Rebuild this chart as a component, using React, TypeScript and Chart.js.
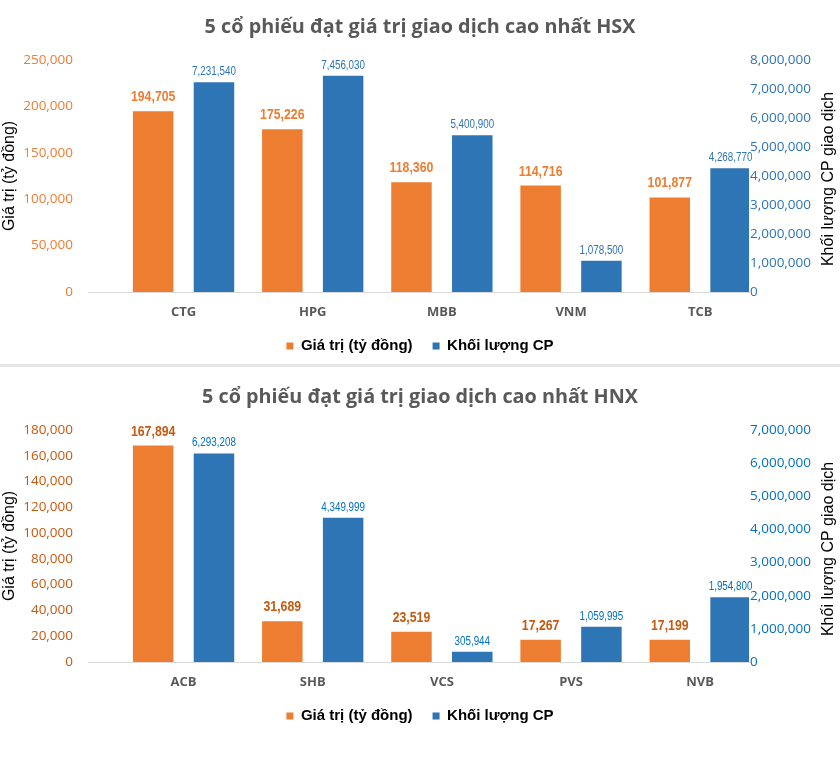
import React, { useEffect, useRef } from "react";
import { Chart, registerables } from "chart.js";

Chart.register(...registerables);

// ---------- Data ----------
const hsxTitle = "5 cổ phiếu đạt giá trị giao dịch cao nhất HSX";
const hsxCategories = ["CTG", "HPG", "MBB", "VNM", "TCB"];
const hsxValues = [194705, 175226, 118360, 114716, 101877];
const hsxVolumes = [7231540, 7456030, 5400900, 1078500, 4268770];
const hsxLeftMax = 250000;
const hsxLeftStep = 50000;
const hsxRightMax = 8000000;
const hsxRightStep = 1000000;

const hnxTitle = "5 cổ phiếu đạt giá trị giao dịch cao nhất HNX";
const hnxCategories = ["ACB", "SHB", "VCS", "PVS", "NVB"];
const hnxValues = [167894, 31689, 23519, 17267, 17199];
const hnxVolumes = [6293208, 4349999, 305944, 1059995, 1954800];
const hnxLeftMax = 180000;
const hnxLeftStep = 20000;
const hnxRightMax = 7000000;
const hnxRightStep = 1000000;

const seriesNames = ["Giá trị (tỷ đồng)", "Khối lượng CP"];
const leftAxisTitle = "Giá trị (tỷ đồng)";
const rightAxisTitle = "Khối lượng CP giao dịch";

// ---------- Styles ----------
const ORANGE = "#ED7D31";
const BLUE = "#2E75B6";
const W = 840;
const H = 365;

const fmt = (v: any) => Number(v).toLocaleString("en-US");

type PanelProps = {
  title: string;
  categories: string[];
  values: number[];
  volumes: number[];
  leftMax: number;
  leftStep: number;
  rightMax: number;
  rightStep: number;
  leftTickColor: string;
  rightTickColor: string;
  valueLabelColor: string;
  volumeLabelColor: string;
};

function Panel(p: PanelProps) {
  const ref = useRef<HTMLCanvasElement | null>(null);

  useEffect(() => {
    if (!ref.current) return;

    // value labels above bars, in a condensed (narrow) face
    const labelPlugin = {
      id: "barLabels",
      afterDatasetsDraw(chart: any) {
        const ctx = chart.ctx;
        const styles = [
          { font: "bold 15px 'Liberation Sans', Arial, sans-serif", color: p.valueLabelColor, gap: 10 },
          { font: "12px 'Liberation Sans', Arial, sans-serif", color: p.volumeLabelColor, gap: 7 },
        ];
        chart.data.datasets.forEach((ds: any, di: number) => {
          const meta = chart.getDatasetMeta(di);
          const st = styles[di];
          meta.data.forEach((el: any, i: number) => {
            ctx.save();
            ctx.font = st.font;
            ctx.fillStyle = st.color;
            ctx.textAlign = "center";
            ctx.textBaseline = "alphabetic";
            ctx.translate(el.x, el.y - st.gap);
            ctx.scale(0.82, 1);
            ctx.fillText(fmt(ds.data[i].y), 0, 0);
            ctx.restore();
          });
        });
      },
    };

    const rightTitlePlugin = {
      id: "rightTitle",
      afterDraw(chart: any) {
        const ctx = chart.ctx;
        const ca = chart.chartArea;
        ctx.save();
        ctx.translate(829, (ca.top + ca.bottom) / 2 + 3);
        ctx.rotate(-Math.PI / 2);
        ctx.font = "16px 'Liberation Sans', Arial, sans-serif";
        ctx.fillStyle = "#000";
        ctx.textAlign = "center";
        ctx.textBaseline = "middle";
        ctx.fillText(rightAxisTitle, 0, 0);
        ctx.restore();
      },
    };

    const n = p.categories.length;
    const chart = new Chart(ref.current, {
      type: "bar",
      data: {
        datasets: [
          {
            label: seriesNames[0],
            data: p.values.map((v, i) => ({ x: i, y: v })),
            backgroundColor: ORANGE,
            yAxisID: "y",
            categoryPercentage: 0.9415,
            barPercentage: 0.666,
          },
          {
            label: seriesNames[1],
            data: p.volumes.map((v, i) => ({ x: i, y: v })),
            backgroundColor: BLUE,
            yAxisID: "y1",
            categoryPercentage: 0.9415,
            barPercentage: 0.666,
          },
        ],
      },
      options: {
        responsive: false,
        animation: false,
        devicePixelRatio: 1,
        layout: { padding: { left: 0, right: 0, top: 0, bottom: 1.5 } },
        plugins: {
          title: {
            display: true,
            text: p.title,
            color: "#595959",
            font: { family: "'Open Sans', sans-serif", size: 19.8, weight: "bold", lineHeight: 1.2 },
            padding: { top: 15, bottom: 21.2 },
          },
          legend: {
            display: true,
            position: "bottom",
            labels: {
              boxWidth: 7,
              boxHeight: 7,
              padding: 20,
              color: "#000",
              font: { family: "'Liberation Sans', Arial, sans-serif", size: 15, weight: "bold" },
            },
          },
          tooltip: { enabled: false },
        },
        scales: {
          x: {
            type: "linear",
            offset: false,
            min: -0.74,
            max: n - 1 + 0.378,
            grid: { display: false, drawTicks: false, offset: false },
            border: { display: true, color: "#d9d9d9", width: 1 },
            ticks: {
              padding: 12.2,
              color: "#595959",
              font: { family: "'Open Sans', sans-serif", size: 13, weight: "bold" },
              autoSkip: false,
              maxRotation: 0,
              callback: (v: any) => p.categories[v] ?? "",
            },
            afterBuildTicks: (axis: any) => {
              axis.ticks = p.categories.map((_, i) => ({ value: i }));
            },
            afterFit: (axis: any) => {
              axis.height = 26.5;
            },
          },
          y: {
            position: "left",
            min: 0,
            max: p.leftMax,
            grid: { display: false, drawTicks: false },
            border: { display: false },
            ticks: {
              stepSize: p.leftStep,
              padding: 15,
              color: p.leftTickColor,
              font: { family: "'Open Sans', sans-serif", size: 13.5 },
              callback: fmt,
            },
            title: {
              display: true,
              text: leftAxisTitle,
              color: "#000",
              font: { family: "'Liberation Sans', Arial, sans-serif", size: 16 },
              padding: 0,
            },
            afterFit: (axis: any) => {
              axis.width = 88;
            },
          },
          y1: {
            position: "right",
            min: 0,
            max: p.rightMax,
            grid: { display: false, drawTicks: false },
            border: { display: false },
            ticks: {
              stepSize: p.rightStep,
              padding: 1,
              color: p.rightTickColor,
              font: { family: "'Open Sans', sans-serif", size: 13.5 },
              callback: fmt,
            },
            afterFit: (axis: any) => {
              axis.width = 91;
            },
          },
        },
      } as any,
      plugins: [labelPlugin, rightTitlePlugin],
    });
    return () => chart.destroy();
  }, []);

  return <canvas ref={ref} width={W} height={H} style={{ display: "block", width: W, height: H }} />;
}

export default function App() {
  return (
    <div
      style={{
        position: "absolute",
        left: 0,
        top: 0,
        width: 840,
        height: 763,
        background: "#fff",
        overflow: "hidden",
      }}
    >
      <div style={{ position: "absolute", left: 0, top: 0 }}>
        <Panel
          title={hsxTitle}
          categories={hsxCategories}
          values={hsxValues}
          volumes={hsxVolumes}
          leftMax={hsxLeftMax}
          leftStep={hsxLeftStep}
          rightMax={hsxRightMax}
          rightStep={hsxRightStep}
          leftTickColor="#ED7D31"
          rightTickColor="#2E75B6"
          valueLabelColor="#ED7D31"
          volumeLabelColor="#2E75B6"
        />
      </div>
      <div style={{ position: "absolute", left: 0, top: 364, width: 840, height: 3, background: "#e6e6e6" }} />
      <div style={{ position: "absolute", left: 0, top: 370 }}>
        <Panel
          title={hnxTitle}
          categories={hnxCategories}
          values={hnxValues}
          volumes={hnxVolumes}
          leftMax={hnxLeftMax}
          leftStep={hnxLeftStep}
          rightMax={hnxRightMax}
          rightStep={hnxRightStep}
          leftTickColor="#C55A11"
          rightTickColor="#0070C0"
          valueLabelColor="#C55A11"
          volumeLabelColor="#0070C0"
        />
      </div>
    </div>
  );
}
